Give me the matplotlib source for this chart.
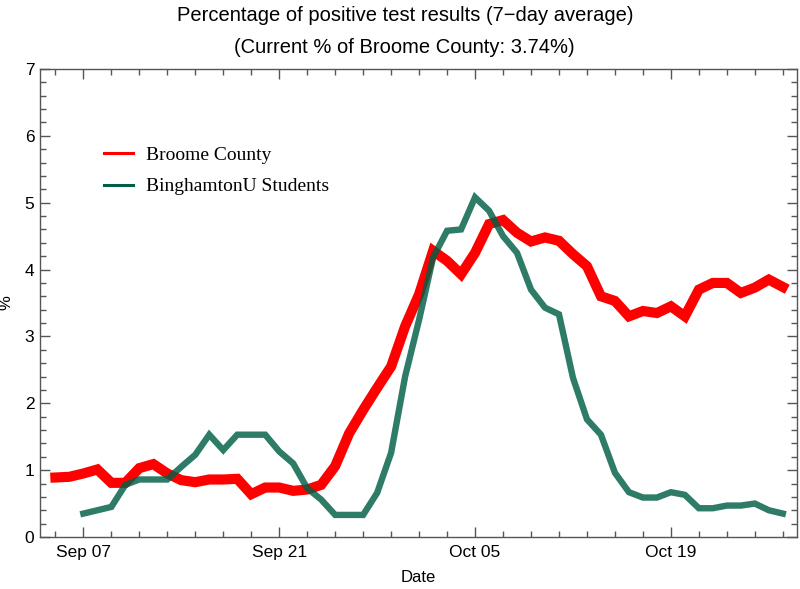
import matplotlib
matplotlib.use("Agg")
import matplotlib.pyplot as plt
import matplotlib.dates as mdates
from matplotlib.lines import Line2D
from matplotlib.ticker import MultipleLocator
import numpy as np
import pandas as pd

# daily 7-day average positivity (%)
county_dates = pd.date_range("2020-09-05", "2020-10-27", freq="D")
county_pct = [0.89, 0.90, 0.95, 1.01, 0.81, 0.81, 1.03, 1.09, 0.95, 0.85,
              0.82, 0.86, 0.86, 0.87, 0.64, 0.74, 0.74, 0.69, 0.71, 0.78,
              1.06, 1.55, 1.90, 2.23, 2.55, 3.15, 3.63, 4.28, 4.13, 3.93,
              4.25, 4.68, 4.74, 4.55, 4.42, 4.48, 4.43, 4.23, 4.05, 3.60,
              3.53, 3.30, 3.38, 3.35, 3.45, 3.30, 3.70, 3.80, 3.80, 3.65,
              3.73, 3.85, 3.74]

student_dates = pd.date_range("2020-09-07", "2020-10-27", freq="D")
student_pct = [0.35, 0.40, 0.45, 0.78, 0.86, 0.86, 0.86, 1.05, 1.23, 1.53,
               1.30, 1.53, 1.53, 1.53, 1.28, 1.10, 0.73, 0.56, 0.33, 0.33,
               0.33, 0.66, 1.26, 2.40, 3.25, 4.18, 4.58, 4.60, 5.08, 4.88,
               4.50, 4.25, 3.70, 3.43, 3.33, 2.38, 1.76, 1.53, 0.96, 0.67,
               0.59, 0.59, 0.67, 0.63, 0.43, 0.43, 0.47, 0.47, 0.50, 0.40,
               0.35]

major_days = ["2020-09-07", "2020-09-21", "2020-10-05", "2020-10-19"]

red = "#ff0000"
green = "#005f46"

fig = plt.figure(figsize=(8, 5.89), dpi=100)
ax = fig.add_axes([0.05, 0.0883, 0.946, 0.7946])

ax.plot(county_dates, county_pct, color=red, lw=7.3,
        solid_joinstyle="miter", solid_capstyle="projecting")
ax.plot(student_dates, student_pct, color=green, lw=4.6, alpha=0.82,
        solid_joinstyle="miter", solid_capstyle="projecting")

start = pd.Timestamp("2020-09-07") - pd.Timedelta(days=3.1)
end = pd.Timestamp("2020-10-27") + pd.Timedelta(days=1.0)
ax.set_xlim(start, end)
ax.set_ylim(0, 7)

# minor ticks every two days
minor = pd.date_range("2020-09-05", "2020-10-27", freq="2D")
ax.set_xticks(minor, minor=True)
ax.set_xticks(pd.to_datetime(major_days))
ax.xaxis.set_major_formatter(mdates.DateFormatter("%b %d"))
ax.set_yticks(range(0, 8))
ax.yaxis.set_minor_locator(MultipleLocator(0.2))

frame = "#555555"
for s in ax.spines.values():
    s.set_color(frame)
    s.set_linewidth(1.0)
ax.tick_params(which="both", direction="in", top=True, right=True,
               color=frame, labelsize=12.5, width=1.0)
ax.tick_params(which="major", length=7)
ax.tick_params(which="minor", length=4.5)
ax.tick_params(axis="x", pad=6)
ax.tick_params(axis="y", pad=4)
for lab in ax.get_xticklabels() + ax.get_yticklabels():
    lab.set_family("Liberation Sans")

ax.set_xlabel("Date", fontsize=12, family="Liberation Sans", labelpad=7)
ax.set_ylabel("%", fontsize=12, family="Liberation Sans", labelpad=8)

fig.text(0.506, 0.9745, "Percentage of positive test results (7\u2212day average)",
         ha="center", va="center", fontsize=14.5, family="Liberation Sans")
fig.text(0.506, 0.92, "(Current % of Broome County: 3.74%)",
         ha="center", va="center", fontsize=14.5, family="Liberation Sans")

handles = [Line2D([], [], color=red, lw=2.2),
           Line2D([], [], color=green, lw=2.2)]
ax.legend(handles, ["Broome County", "BinghamtonU Students"],
          loc="upper left", bbox_to_anchor=(0.084, 0.835), frameon=False,
          prop={"family": "Liberation Serif", "size": 14},
          handlelength=1.5, handletextpad=0.7, labelspacing=0.72,
          borderpad=0, borderaxespad=0)

fig.savefig("out.png", dpi=100)
